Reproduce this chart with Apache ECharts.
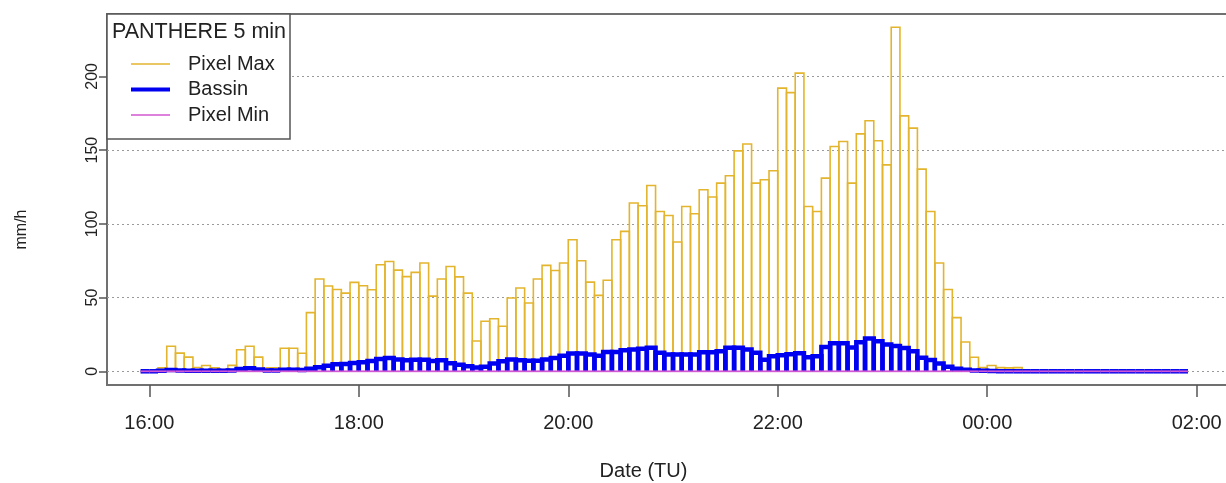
<!DOCTYPE html>
<html>
<head>
<meta charset="utf-8">
<script src="https://cdn.jsdelivr.net/npm/echarts@6/dist/echarts.min.js"></script>
<style>
html,body{margin:0;padding:0;background:#fff;}
#chart{width:1226px;height:483px;}
</style>
</head>
<body>
<div id="chart"></div>
<script>
// time origin: minutes relative to 16:00 (TU); first sample at 15:55, 5-min steps
var START_MIN = -5;
var STEP_MIN = 5;

var pixelMax = [
  0, 0.5, 2.3, 17, 12.3, 9.6, 2.6, 3.9, 2.3, 1.2, 4,
  14.6, 17, 9.6, 2.3, 2.3, 15.6, 15.6, 12.2, 39.8, 62.6,
  57.8, 55.5, 53, 60.3, 58, 55.3, 72.3, 74.5, 68.6, 64.2,
  67.1, 73.4, 51, 62.6, 71.1, 64, 53, 20.5, 33.9, 35.6,
  30.5, 49.7, 56.5, 46.3, 62.6, 71.8, 68.4, 73.4, 89.2, 75,
  60.5, 51.5, 61.7, 89.2, 94.9, 114.1, 112.3, 126, 108.4, 105.7,
  87.7, 111.8, 106.8, 123.1, 118.2, 127.6, 132.6, 149.5, 154.1, 127.6,
  129.9, 136, 192, 189, 202.2, 111.8, 108.4, 131, 152.4, 155.8,
  127.6, 161, 169.9, 156.3, 140, 233.3, 173.2, 164.9, 137.1, 108.4,
  73.4, 55.5, 36.4, 19.9, 9.5, 2.5, 3.9, 2.5, 2.3, 2.5,
  0, 0, 0, 0, 0, 0, 0, 0, 0, 0,
  0, 0, 0, 0, 0, 0, 0, 0, 0, 0
];

var bassin = [
  0, 0, 0.3, 0.8, 0.6, 0.4, 0.3, 0.3, 0.3, 0.3, 0.6,
  1.5, 2, 1.2, 0.5, 0.5, 1, 1, 0.8, 1.8, 2.7,
  3.8, 4.8, 5, 5.7, 6.2, 7, 8.4, 9, 8, 7.5,
  7.9, 7.9, 7, 7.5, 5.5, 4.5, 3.5, 2.5, 3, 5.2,
  6.8, 8, 7.5, 7.2, 7.2, 8, 9, 10.5, 12, 12,
  11.3, 10.6, 13.1, 13.1, 14.2, 14.7, 15.2, 15.9, 12.5, 11.3,
  11.3, 11.3, 11.3, 12.9, 12.9, 13.6, 15.9, 15.9, 14.7, 12.5,
  7.9, 10.2, 10.8, 11.6, 12.3, 9.6, 10.2, 16.4, 19, 19,
  16.2, 19.7, 22.3, 20.3, 18.1, 17.1, 15.8, 13.6, 9.1, 7.7,
  5.3, 3, 1.8, 1, 0.5, 0.3, 0.2, 0.1, 0.1, 0,
  0, 0, 0, 0, 0, 0, 0, 0, 0, 0,
  0, 0, 0, 0, 0, 0, 0, 0, 0, 0
];

var pixelMin = [
  0, 0, 0, 0, 0, 0, 0, 0, 0, 0, 0,
  0, 0, 0, 0, 0, 0, 0, 0, 0, 0,
  0, 0, 0, 0, 0, 0, 0, 0, 0, 0,
  0, 0, 0, 0, 0, 0, 0, 0, 0, 0,
  0, 0, 0, 0, 0, 0, 0, 0, 0, 0,
  0, 0, 0, 0, 0, 0, 0, 0, 0, 0,
  0, 0, 0, 0, 0, 0, 0, 0, 0, 0,
  0, 0, 0, 0, 0, 0, 0, 0, 0, 0,
  0, 0, 0, 0, 0, 0, 0, 0, 0, 0,
  0, 0, 0, 0, 0, 0, 0, 0, 0, 0,
  0, 0, 0, 0, 0, 0, 0, 0, 0, 0,
  0, 0, 0, 0, 0, 0, 0, 0, 0, 0
];

var xTickValues = [0, 120, 240, 360, 480, 600];
var xTickLabels = ['16:00', '18:00', '20:00', '22:00', '00:00', '02:00'];
var yTickValues = [0, 50, 100, 150, 200];
var seriesNames = ['Pixel Max', 'Bassin', 'Pixel Min'];
var legendTitle = 'PANTHERE 5 min';

var COLORS = { max: '#E3B52E', bassin: '#0000F0', min: '#D257D2' };
var FONT = "'Liberation Sans', Arial, sans-serif";

function toPairs(vals) {
  return vals.map(function (v, i) { return [START_MIN + i * STEP_MIN, v]; });
}

function stepRenderer(color, width, n) {
  return function (params, api) {
    var t = api.value(0), v = api.value(1);
    var pts;
    if (params.dataIndex === n - 1) {
      pts = [api.coord([t, 0]), api.coord([t, v])];
    } else {
      pts = [api.coord([t, 0]), api.coord([t, v]), api.coord([t + STEP_MIN, v]), api.coord([t + STEP_MIN, 0])];
    }
    return {
      type: 'polyline',
      shape: { points: pts },
      style: { stroke: color, lineWidth: width, fill: null, lineJoin: 'miter' }
    };
  };
}

var chart = echarts.init(document.getElementById('chart'), null, { renderer: 'canvas' });

var option = {
  animation: false,
  backgroundColor: '#ffffff',
  textStyle: { fontFamily: FONT },
  grid: {
    left: 107, top: 14, right: -10, bottom: 98,
    outerBoundsMode: 'none', containLabel: false,
    show: true, borderColor: '#707070', borderWidth: 2, backgroundColor: 'transparent'
  },
  title: {
    text: legendTitle,
    left: 107, top: 16,
    textStyle: { fontFamily: FONT, fontSize: 21.5, fontWeight: 'normal', color: '#222' },
    z: 10
  },
  legend: {
    orient: 'vertical',
    left: 107, top: 14,
    padding: [40, 10, 14, 24],
    itemGap: 5.5,
    itemWidth: 39, itemHeight: 14,
    backgroundColor: '#ffffff',
    borderColor: '#555555', borderWidth: 1.5,
    selectedMode: false,
    textStyle: { fontFamily: FONT, fontSize: 20, lineHeight: 20, color: '#222', padding: [0, 0, 0, 13], width: 92 },
    data: [
      { name: seriesNames[0], icon: 'path://M0,0H40V1.6H0Z', itemStyle: { color: COLORS.max } },
      { name: seriesNames[1], icon: 'path://M0,0H40V4H0Z', itemStyle: { color: COLORS.bassin } },
      { name: seriesNames[2], icon: 'path://M0,0H40V1.6H0Z', itemStyle: { color: COLORS.min } }
    ],
    z: 5
  },
  xAxis: {
    type: 'value',
    min: -24.23, max: 622.5,
    axisLine: { show: false, onZero: false },
    splitLine: { show: false },
    axisTick: { show: true, customValues: xTickValues, length: 12, lineStyle: { color: '#555', width: 1.5 } },
    axisLabel: {
      customValues: xTickValues,
      formatter: function (v) { return xTickLabels[xTickValues.indexOf(v)]; },
      fontFamily: FONT, fontSize: 20, color: '#222', margin: 28
    },
    name: 'Date (TU)', nameLocation: 'middle', nameGap: 76,
    nameTextStyle: { fontFamily: FONT, fontSize: 20, color: '#222', padding: [0, 56, 0, 0] }
  },
  yAxis: {
    type: 'value',
    min: -9.3, max: 242.3,
    axisLine: { show: false, onZero: false },
    splitLine: { show: false },
    axisTick: { show: true, customValues: yTickValues, length: 8, lineStyle: { color: '#555', width: 1.5 } },
    axisLabel: {
      customValues: yTickValues, rotate: 90,
      fontFamily: FONT, fontSize: 16, color: '#222', margin: 6
    },
    name: 'mm/h', nameLocation: 'middle', nameGap: 77, nameRotate: 90,
    nameTextStyle: { fontFamily: FONT, fontSize: 16, color: '#222', padding: [0, 60, 0, 0] }
  },
  series: [
    {
      name: seriesNames[0], type: 'custom', clip: true,
      itemStyle: { color: COLORS.max },
      renderItem: stepRenderer(COLORS.max, 1.6, pixelMax.length),
      encode: { x: 0, y: 1 },
      data: toPairs(pixelMax),
      z: 2,
      markLine: {
        silent: true, symbol: 'none', label: { show: false },
        lineStyle: { type: [2, 3], color: '#9a9a9a', width: 1.2 },
        data: yTickValues.map(function (v) { return { yAxis: v }; }),
        z: 1
      }
    },
    {
      name: seriesNames[1], type: 'custom', clip: true,
      itemStyle: { color: COLORS.bassin },
      renderItem: stepRenderer(COLORS.bassin, 4.5, bassin.length),
      encode: { x: 0, y: 1 },
      data: toPairs(bassin),
      z: 3
    },
    {
      name: seriesNames[2], type: 'custom', clip: true,
      itemStyle: { color: COLORS.min },
      renderItem: stepRenderer(COLORS.min, 1.8, pixelMin.length),
      encode: { x: 0, y: 1 },
      data: toPairs(pixelMin),
      z: 4
    }
  ]
};
chart.setOption(option);
</script>
</body>
</html>
